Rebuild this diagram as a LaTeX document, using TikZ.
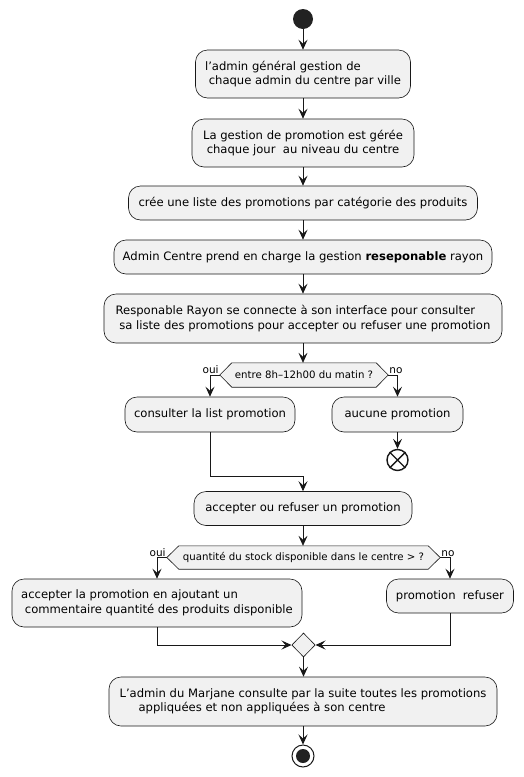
\documentclass[tikz,border=0pt]{standalone}
\usepackage{fontspec}
\setmainfont{DejaVu Sans}
\usetikzlibrary{arrows.meta,shapes.geometric,backgrounds}
\definecolor{boxfill}{HTML}{F1F1F1}
\definecolor{boxline}{HTML}{181818}
\definecolor{dot}{HTML}{222222}
\begin{document}
\begin{tikzpicture}[x=1pt,y=-1pt,
  act/.style={draw=boxline, fill=boxfill, line width=0.6pt, rounded corners=12pt, align=left, inner sep=0pt, font=\fontsize{11.6}{14.5}\selectfont},
  arr/.style={draw=boxline, line width=0.8pt, -{Stealth[length=10pt,width=9pt,inset=4pt]}},
  lbl/.style={font=\fontsize{10.5}{12}\selectfont, inner sep=1pt},
  dectext/.style={font=\fontsize{10.2}{12}\selectfont, inner sep=0pt},
  hexa/.style={draw=boxline, fill=boxfill, line width=0.6pt}]
\useasboundingbox (0,0) rectangle (524,777);
\begin{scope}[on background layer]
\fill[white] (0,0) rectangle (524,777);
\end{scope}

\node[circle, fill=dot, minimum size=20pt, inner sep=0pt] (start) at (303,19) {};

\node[act, minimum width=215pt, minimum height=48pt] (b1) at (303,74)
  {l’admin général gestion de\\\hspace*{3.7pt}chaque admin du centre par ville};
\node[act, minimum width=222pt, minimum height=48pt] (b2) at (303,143)
  {La gestion de promotion est gérée\\\hspace*{3.7pt}chaque jour\hspace*{3.7pt} au niveau du centre};
\node[act, minimum width=349pt, minimum height=34pt] (b3) at (303,203)
  {crée une liste des promotions par catégorie des produits};
\node[act, minimum width=378pt, minimum height=34pt] (b4) at (303,257)
  {Admin Centre prend en charge la gestion \textbf{reseponable} rayon};
\node[act, minimum width=398pt, minimum height=49pt] (b5) at (303,318.5)
  {Responable Rayon se connecte à son interface pour consulter\\\hspace*{3.7pt}sa liste des promotions pour accepter ou refuser une promotion};

\node[dectext, minimum width=168pt, minimum height=24pt] (d1) at (304,375) {entre 8h–12h00 du matin ?};
\begin{scope}[on background layer]
\path[hexa] (d1.west) -- ([xshift=12pt]d1.north west) -- ([xshift=-12pt]d1.north east) -- (d1.east)
  -- ([xshift=-12pt]d1.south east) -- ([xshift=12pt]d1.south west) -- cycle;
\end{scope}
\node[lbl, anchor=south east] at (d1.west) {oui};
\node[lbl, anchor=south west] at (d1.east) {no};

\node[act, minimum width=170pt, minimum height=35pt] (c1) at (210,414.5) {consulter la list promotion};
\node[act, minimum width=131pt, minimum height=35pt] (c2) at (397.5,414.5) {aucune promotion};
\node[circle, draw=boxline, fill=white, line width=1.4pt, minimum size=21pt, inner sep=0pt] (xend) at (397.5,460) {};
\draw[boxline, line width=1.4pt] (xend.north east) -- (xend.south west) (xend.north west) -- (xend.south east);

\coordinate (j1) at (303,476);
\node[act, minimum width=218pt, minimum height=34pt] (b6) at (303,508.5) {accepter ou refuser un promotion};

\node[dectext, minimum width=273pt, minimum height=23pt] (d2) at (303.5,557.5) {quantité du stock disponible dans le centre > ?};
\begin{scope}[on background layer]
\path[hexa] (d2.west) -- ([xshift=12pt]d2.north west) -- ([xshift=-12pt]d2.north east) -- (d2.east)
  -- ([xshift=-12pt]d2.south east) -- ([xshift=12pt]d2.south west) -- cycle;
\end{scope}
\node[lbl, anchor=south east] at (d2.west) {oui};
\node[lbl, anchor=south west] at (d2.east) {no};

\node[act, minimum width=290pt, minimum height=48pt] (a1) at (157,603)
  {accepter la promotion en ajoutant un\\\hspace*{3.7pt}commentaire quantité des produits disponible};
\node[act, minimum width=127pt, minimum height=34pt] (a2) at (450,596) {promotion\hspace*{3.7pt} refuser};

\node[diamond, draw=boxline, fill=boxfill, line width=0.6pt, minimum width=23.4pt, minimum height=24pt, inner sep=0pt] (m) at (303.5,645) {};

\node[act, minimum width=388pt, minimum height=49pt] (bf) at (303,701.5)
  {L’admin du Marjane consulte par la suite toutes les promotions\\\hspace*{19pt}appliquées et non appliquées à son centre};

\node[circle, draw=boxline, fill=white, line width=1pt, minimum size=22pt, inner sep=0pt] (endc) at (303,756) {};
\fill[dot] (endc.center) circle (7pt);

\draw[arr] (start.south) -- (b1.north);
\draw[arr] (b1.south) -- (b2.north);
\draw[arr] (b2.south) -- (b3.north);
\draw[arr] (b3.south) -- (b4.north);
\draw[arr] (b4.south) -- (b5.north);
\draw[arr] (b5.south) -- (d1.north -| b5.south);
\draw[arr] (d1.west) -| (c1.north);
\draw[arr] (d1.east) -| (c2.north);
\draw[arr] (c2.south) -- (xend.north);
\draw[arr] (c1.south) |- (j1) -- (b6.north);
\draw[arr] (b6.south) -- (d2.north -| b6.south);
\draw[arr] (d2.west) -| (a1.north);
\draw[arr] (d2.east) -| (a2.north);
\draw[arr] (a1.south) |- (m.west);
\draw[arr] (a2.south) |- (m.east);
\draw[arr] (m.south) -- (bf.north -| m.south);
\draw[arr] (bf.south) -- (endc.north);
\end{tikzpicture}
\end{document}
